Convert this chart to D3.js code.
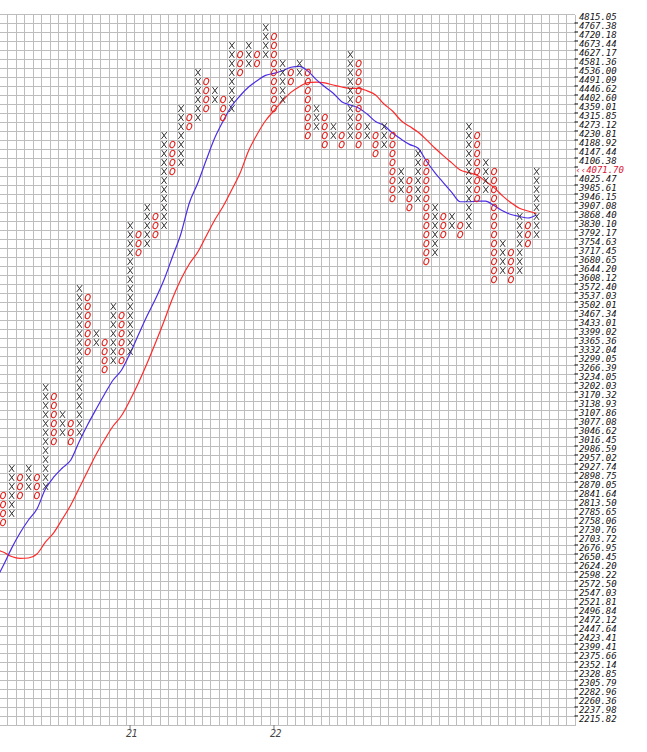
<!DOCTYPE html>
<html><head><meta charset="utf-8">
<script src="https://cdn.jsdelivr.net/npm/d3@7"></script>
<style>body{margin:0;background:#fff;} svg{display:block;}</style>
</head><body>
<script>
// Box price levels (1% boxes), top to bottom
const boxLevels = [4815.05, 4767.38, 4720.18, 4673.44, 4627.17, 4581.36, 4536.00, 4491.09, 4446.62, 4402.60,
4359.01, 4315.85, 4273.12, 4230.81, 4188.92, 4147.44, 4106.38, 4065.72, 4025.47, 3985.61,
3946.15, 3907.08, 3868.40, 3830.10, 3792.17, 3754.63, 3717.45, 3680.65, 3644.20, 3608.12,
3572.40, 3537.03, 3502.01, 3467.34, 3433.01, 3399.02, 3365.36, 3332.04, 3299.05, 3266.39,
3234.05, 3202.03, 3170.32, 3138.93, 3107.86, 3077.08, 3046.62, 3016.45, 2986.59, 2957.02,
2927.74, 2898.75, 2870.05, 2841.64, 2813.50, 2785.65, 2758.06, 2730.76, 2703.72, 2676.95,
2650.45, 2624.20, 2598.22, 2572.50, 2547.03, 2521.81, 2496.84, 2472.12, 2447.64, 2423.41,
2399.41, 2375.66, 2352.14, 2328.85, 2305.79, 2282.96, 2260.36, 2237.98, 2215.82];
const lastPrice = 4071.70;

// Point & figure columns
const colTypes = ["O","X","O","X","O","X","O","X","O","X","O","X","O","X","O","X","O","X","O","X",
"O","X","O","X","O","X","O","X","O","X","O","X","O","X","O","X","O","X","O","X",
"O","X","O","X","O","X","O","X","O","X","O","X","O","X","O","X","O","X","O","X",
"O","X","O","X"];
const colHigh = [2841.64, 2927.74, 2898.75, 2927.74, 2898.75, 3202.03, 3170.32, 3107.86, 3077.08, 3572.40,
3537.03, 3399.02, 3365.36, 3502.01, 3467.34, 3830.10, 3792.17, 3907.08, 3868.40, 4230.81,
4188.92, 4359.01, 4315.85, 4536.00, 4491.09, 4446.62, 4402.60, 4673.44, 4627.17, 4673.44,
4627.17, 4767.38, 4720.18, 4581.36, 4536.00, 4581.36, 4536.00, 4359.01, 4315.85, 4273.12,
4230.81, 4627.17, 4581.36, 4273.12, 4230.81, 4273.12, 4230.81, 4065.72, 4025.47, 4147.44,
4106.38, 3907.08, 3868.40, 3868.40, 3830.10, 4273.12, 4230.81, 4106.38, 4065.72, 3754.63,
3717.45, 3868.40, 3830.10, 4065.72];
const colLow = [2758.06, 2785.65, 2841.64, 2870.05, 2841.64, 2870.05, 3016.45, 3046.62, 3016.45, 3046.62,
3332.04, 3365.36, 3266.39, 3299.05, 3299.05, 3332.04, 3717.45, 3754.63, 3792.17, 3830.10,
4065.72, 4106.38, 4273.12, 4315.85, 4359.01, 4402.60, 4315.85, 4359.01, 4536.00, 4581.36,
4581.36, 4627.17, 4359.01, 4402.60, 4491.09, 4536.00, 4230.81, 4273.12, 4188.92, 4230.81,
4188.92, 4230.81, 4188.92, 4230.81, 4147.44, 4188.92, 3946.15, 3985.61, 3907.08, 3946.15,
3680.65, 3717.45, 3792.17, 3830.10, 3792.17, 3830.10, 3946.15, 3985.61, 3608.12, 3644.20,
3608.12, 3644.20, 3754.63, 3792.17];

// Moving averages per column (first value is the column left of the view)
const maStartCol = -1;
const maFast = [2582.5, 2628.6, 2680.3, 2726.1, 2765.7, 2799.5, 2862.0, 2900.4, 2929.4, 2955.3,
3016.5, 3073.4, 3126.8, 3179.1, 3228.6, 3264.4, 3325.1, 3395.3, 3465.3, 3531.0,
3606.0, 3699.0, 3794.3, 3926.5, 4014.2, 4117.7, 4219.0, 4299.1, 4371.1, 4421.0,
4463.8, 4494.9, 4521.6, 4531.9, 4544.9, 4562.2, 4567.3, 4543.5, 4500.3, 4464.7,
4433.3, 4392.1, 4375.9, 4361.4, 4332.5, 4296.9, 4277.6, 4242.5, 4214.4, 4189.6,
4172.7, 4113.2, 4061.2, 4016.3, 3973.3, 3932.0, 3932.0, 3934.4, 3934.4, 3915.5,
3893.1, 3877.2, 3868.4, 3861.9, 3874.8];
const maSlow = [2678.4, 2669.5, 2656.2, 2650.9, 2651.9, 2663.6, 2698.6, 2727.5, 2768.7, 2811.8,
2865.2, 2919.6, 2974.1, 3023.0, 3068.5, 3104.4, 3158.0, 3219.2, 3288.2, 3363.3,
3444.2, 3532.5, 3608.1, 3670.4, 3719.5, 3785.8, 3853.4, 3912.4, 3983.2, 4058.8,
4160.1, 4235.7, 4300.4, 4349.0, 4395.6, 4437.3, 4465.2, 4485.7, 4488.4, 4484.0,
4473.7, 4463.8, 4457.1, 4457.1, 4444.8, 4424.5, 4380.7, 4346.9, 4301.7, 4273.8,
4247.2, 4211.4, 4172.7, 4137.5, 4104.7, 4072.5, 4060.9, 4048.7, 4021.8, 3993.8,
3957.8, 3927.7, 3904.0, 3891.9, 3881.0];

// Year labels on the time axis
const yearLabels = ["21", "22"];
const yearCols = [15, 32];

const W = 647, H = 752;
const nCols = 68;
const plotL = -1.16, plotR = 574.5, plotT = 14, plotB = 725;

const svg = d3.select("body").append("svg").attr("width", W).attr("height", H);

const x = d3.scaleLinear().domain([-0.5, nCols - 0.5]).range([plotL, plotR]);
const nRows = boxLevels.length;
const rowH = (plotB - plotT) / nRows;
const y = d3.scaleLog().domain([boxLevels[0], boxLevels[nRows - 1]])
  .range([plotT + rowH / 2, plotB - rowH / 2]);

// Row boundaries
const bounds = [];
for (let k = 0; k <= nRows; k++) {
  let v;
  if (k === 0) v = y(boxLevels[0]) - rowH / 2;
  else if (k === nRows) v = y(boxLevels[nRows - 1]) + rowH / 2;
  else v = y(Math.sqrt(boxLevels[k - 1] * boxLevels[k]));
  bounds.push(v);
}

const grid = svg.append("g").attr("stroke", "#bdbdbd").attr("stroke-width", 1).attr("shape-rendering", "crispEdges");
grid.selectAll("line.h").data(bounds).join("line").attr("class", "h")
  .attr("x1", 0).attr("x2", plotR).attr("y1", d => Math.round(d) + 0.5).attr("y2", d => Math.round(d) + 0.5);
grid.selectAll("line.v").data(d3.range(0, nCols + 1)).join("line").attr("class", "v")
  .attr("x1", d => Math.round(x(d - 0.5)) + 0.5).attr("x2", d => Math.round(x(d - 0.5)) + 0.5)
  .attr("y1", Math.round(plotT) + 0.5).attr("y2", Math.round(plotB) + 0.5);

// Moving average lines
svg.append("clipPath").attr("id", "clip").append("rect")
  .attr("x", 0).attr("y", plotT).attr("width", plotR).attr("height", plotB - plotT);
const line = d3.line().x((d, i) => x(maStartCol + i)).y(d => y(d)).curve(d3.curveMonotoneX);
const lines = svg.append("g").attr("clip-path", "url(#clip)").attr("fill", "none");
lines.append("path").datum(maSlow).attr("d", line).attr("stroke", "#ff2a2a").attr("stroke-width", 1.2);
lines.append("path").datum(maFast).attr("d", line).attr("stroke", "#4b2de6").attr("stroke-width", 1.2);

// X / O marks
const marks = [];
colTypes.forEach((t, c) => {
  boxLevels.forEach(p => {
    if (p <= colHigh[c] * 1.00001 && p >= colLow[c] * 0.99999) marks.push({ t, c, p });
  });
});
const mg = svg.append("g");
mg.selectAll("path.x").data(marks.filter(m => m.t === "X")).join("path").attr("class", "x")
  .attr("transform", d => `translate(${x(d.c)},${y(d.p)})`)
  .attr("d", "M-2.2,-3.4L2.6,3.4M2.9,-3.4L-2.5,3.4")
  .attr("fill", "none").attr("stroke", "#333").attr("stroke-width", 1);
mg.selectAll("ellipse.o").data(marks.filter(m => m.t === "O")).join("ellipse").attr("class", "o")
  .attr("cx", 0).attr("cy", 0).attr("rx", 2.3).attr("ry", 3.3)
  .attr("transform", d => `translate(${x(d.c)},${y(d.p)}) rotate(22)`)
  .attr("fill", "none").attr("stroke", "#e3231f").attr("stroke-width", 1.1);

// Right price axis
let lastIdx = boxLevels.findIndex((p, i) => p <= lastPrice && (i === 0 || lastPrice < boxLevels[i - 1]));
const ax = svg.append("g").attr("font-family", "DejaVu Sans Mono, monospace").attr("font-style", "italic")
  .attr("font-size", 9).attr("letter-spacing", -0.05);
ax.selectAll("line").data(bounds.slice(1, nRows)).join("line")
  .attr("x1", plotR).attr("x2", plotR + 3.5).attr("y1", d => d).attr("y2", d => d)
  .attr("stroke", "#000").attr("stroke-width", 1);
ax.selectAll("text.lab").data(boxLevels.filter((p, i) => i !== lastIdx)).join("text").attr("class", "lab")
  .attr("x", 579).attr("y", d => y(d) - 1.6).attr("dominant-baseline", "central")
  .attr("fill", "#111").text(d => d.toFixed(2));
ax.append("text").attr("x", 575.5).attr("y", y(boxLevels[lastIdx]) - 1.6).attr("dominant-baseline", "central")
  .attr("fill", "#d81436").text("\u2039\u2039" + lastPrice.toFixed(2));

// Time axis
const tg = svg.append("g");
yearCols.forEach((c, i) => {
  tg.append("line").attr("x1", x(c)).attr("x2", x(c)).attr("y1", plotB).attr("y2", plotB + 4)
    .attr("stroke", "#777");
  tg.append("text").attr("x", x(c) + 1.5).attr("y", plotB + 8.5).attr("dominant-baseline", "central")
    .attr("text-anchor", "middle").attr("font-family", "DejaVu Sans Mono, monospace").attr("font-style", "italic")
    .attr("font-size", 10).attr("letter-spacing", -0.5).attr("fill", "#444").text(yearLabels[i]);
});
</script>
</body></html>
